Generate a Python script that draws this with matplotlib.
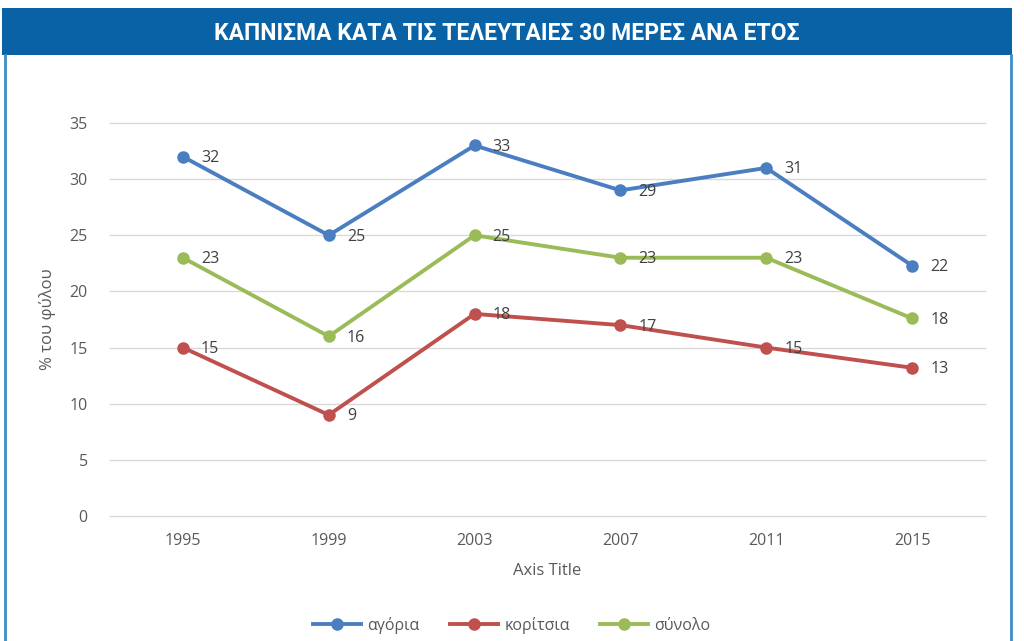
import matplotlib
matplotlib.use('Agg')
import matplotlib.pyplot as plt
from matplotlib.patches import Rectangle
from matplotlib.lines import Line2D

# δεδομένα
years = ['1995', '1999', '2003', '2007', '2011', '2015']
agoria = [32, 25, 33, 29, 31, 22.3]
koritsia = [15, 9, 18, 17, 15, 13.2]
synolo = [23, 16, 25, 23, 23, 17.6]
series_names = ['αγόρια', 'κορίτσια', 'σύνολο']
colors = ['#4A7EC0', '#C0504D', '#9BBB59']
title = 'ΚΑΠΝΙΣΜΑ ΚΑΤΑ ΤΙΣ ΤΕΛΕΥΤΑΙΕΣ 30 ΜΕΡΕΣ ΑΝΑ ΕΤΟΣ'
yticks = [0, 5, 10, 15, 20, 25, 30, 35]

plt.rcParams['font.family'] = ['Open Sans', 'DejaVu Sans']

W, H = 1024, 641
fig = plt.figure(figsize=(W / 100, H / 100), dpi=100)
fig.patch.set_facecolor('white')

# πλαίσιο + μπλε μπάρα τίτλου
fig.add_artist(Rectangle((2 / W, 1 - 55 / H), 1010 / W, 47 / H, transform=fig.transFigure,
                         facecolor='#0862A5', edgecolor='none'))
fig.add_artist(Line2D([5 / W, 5 / W], [0, 1 - 55 / H], transform=fig.transFigure,
                      color='#3F8CC8', lw=2))
fig.add_artist(Line2D([1011 / W, 1011 / W], [0, 1 - 55 / H], transform=fig.transFigure,
                      color='#3F8CC8', lw=2))
fig.text(507 / W, 1 - 33 / H, title, color='white', fontsize=16.5, fontweight='bold',
         family=['Roboto', 'DejaVu Sans'], ha='center', va='center')

ax = fig.add_axes([110 / W, 1 - 516 / H, 875 / W, 393 / H])
x = list(range(len(years)))
for vals, name, c in zip([agoria, koritsia, synolo], series_names, colors):
    ax.plot(x, vals, color=c, lw=2.8, marker='o', ms=8, label=name, zorder=3)
    for xi, v in zip(x, vals):
        ax.annotate('%d' % round(v), (xi, v), xytext=(13, -1), textcoords='offset points',
                    ha='left', va='center', fontsize=11.5, color='#404040', zorder=4)

ax.set_xlim(-0.5, len(years) - 0.5)
ax.set_ylim(0, 35)
ax.set_yticks(yticks)
ax.set_xticks(x)
ax.set_xticklabels(years)
ax.grid(axis='y', color='#D9D9D9', lw=1)
for gl in ax.get_ygridlines():
    gl.set_clip_on(False)
ax.set_axisbelow(True)
for s in ax.spines.values():
    s.set_visible(False)
ax.tick_params(length=0, labelsize=11.5, labelcolor='#595959', pad=12)
ax.tick_params(axis='y', pad=16)
ax.set_xlabel('Axis Title', fontsize=12, color='#595959', labelpad=10)
ax.set_ylabel('% του φύλου', fontsize=12, color='#595959', labelpad=10)

ax.legend(loc='center', bbox_to_anchor=(512 / W, 1 - 625 / H), bbox_transform=fig.transFigure,
          ncol=3, frameon=False, fontsize=11.5, labelcolor='#595959', handlelength=3,
          columnspacing=1.9, handletextpad=0.4)

fig.savefig('out.png', dpi=100, facecolor='white')
